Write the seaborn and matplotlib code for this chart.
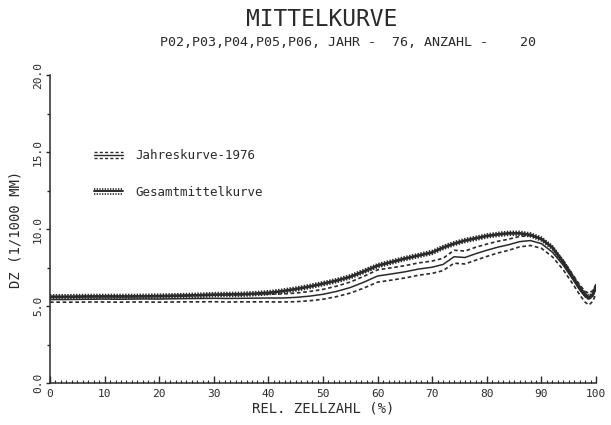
import numpy as np
import pandas as pd
import matplotlib
matplotlib.use("Agg")
import matplotlib.pyplot as plt
from matplotlib.lines import Line2D
from matplotlib.legend_handler import HandlerBase
import seaborn as sns

# Relative cell number (%) and cell-wall thickness DZ (1/1000 mm)
rel_zellzahl = [0, 2.5, 5, 7.5, 10, 12.5, 15, 17.5, 20, 22.5, 25, 27.5, 30, 32.5,
                35, 37.5, 40, 42.5, 45, 47.5, 50, 52.5, 55, 57.5, 60, 62.5, 65,
                67.5, 70, 72, 74, 76, 78, 80, 82, 84, 86, 88, 90, 92, 94, 96,
                97, 98, 98.7, 99.4, 100]

# Year curve 1976: mean and spread
jahr_mittel = [5.42, 5.42, 5.43, 5.44, 5.45, 5.44, 5.45, 5.46, 5.45, 5.47, 5.48,
               5.49, 5.50, 5.49, 5.50, 5.51, 5.52, 5.52, 5.56, 5.64, 5.76, 5.95,
               6.20, 6.55, 6.95, 7.08, 7.22, 7.40, 7.52, 7.70, 8.20, 8.15, 8.40,
               8.62, 8.82, 8.98, 9.18, 9.25, 9.05, 8.50, 7.65, 6.60, 6.05, 5.60,
               5.45, 5.65, 6.10]
jahr_streuung = [0.17, 0.17, 0.18, 0.18, 0.19, 0.19, 0.19, 0.20, 0.20, 0.21,
                 0.21, 0.22, 0.22, 0.23, 0.23, 0.24, 0.25, 0.26, 0.28, 0.30,
                 0.32, 0.34, 0.36, 0.38, 0.40, 0.40, 0.40, 0.40, 0.40, 0.40,
                 0.42, 0.42, 0.42, 0.40, 0.38, 0.36, 0.34, 0.32, 0.30, 0.30,
                 0.30, 0.30, 0.32, 0.35, 0.38, 0.35, 0.30]

# Overall mean curve and spread
gesamt_mittel = [5.60, 5.60, 5.61, 5.62, 5.62, 5.62, 5.62, 5.63, 5.64, 5.66,
                 5.68, 5.70, 5.74, 5.75, 5.76, 5.80, 5.86, 5.96, 6.10, 6.26,
                 6.45, 6.65, 6.90, 7.25, 7.62, 7.85, 8.08, 8.28, 8.48, 8.80,
                 9.05, 9.25, 9.40, 9.55, 9.65, 9.72, 9.72, 9.62, 9.35, 8.80,
                 7.85, 6.75, 6.20, 5.75, 5.55, 5.75, 6.30]
gesamt_streuung = [0.12] * 47

x_ticks = [0, 10, 20, 30, 40, 50, 60, 70, 80, 90, 100]
y_ticks = [0.0, 5.0, 10.0, 15.0, 20.0]

df = pd.DataFrame({
    "x": rel_zellzahl,
    "jm": jahr_mittel,
    "jo": np.add(jahr_mittel, jahr_streuung),
    "ju": np.subtract(jahr_mittel, jahr_streuung),
    "gm": gesamt_mittel,
    "go": np.add(gesamt_mittel, gesamt_streuung),
    "gu": np.subtract(gesamt_mittel, gesamt_streuung),
})

sns.set_style("ticks")
mono = ["DejaVu Sans Mono", "DejaVu Sans"]
plt.rcParams["font.family"] = mono
ink = "#2a2a2a"

fig = plt.figure(figsize=(6.11, 4.25), dpi=100)
ax = fig.add_axes([0.0818, 0.0988, 0.8937, 0.7247])

dash = (0, (2.2, 1.6))
dots = (0, (0.8, 0.8))

# Overall mean curve (heavy, hatched look)
sns.lineplot(data=df, x="x", y="go", ax=ax, color=ink, lw=1.3, linestyle=dots)
sns.lineplot(data=df, x="x", y="gu", ax=ax, color=ink, lw=1.3, linestyle=dots)
sns.lineplot(data=df, x="x", y="gm", ax=ax, color=ink, lw=2.0)

# Year curve with dashed spread
sns.lineplot(data=df, x="x", y="jo", ax=ax, color=ink, lw=1.2, linestyle=dash)
sns.lineplot(data=df, x="x", y="ju", ax=ax, color=ink, lw=1.2, linestyle=dash)
sns.lineplot(data=df, x="x", y="jm", ax=ax, color=ink, lw=1.1)

ax.set_xlim(0, 100)
ax.set_ylim(0, 20)
ax.set_xticks(x_ticks)
ax.set_xticks(np.arange(0, 101, 1), minor=True)
ax.set_yticks(y_ticks)
ax.set_yticks(np.arange(0, 20.1, 2.5), minor=True)
ax.set_xticklabels([str(v) for v in x_ticks])
ax.set_yticklabels([f"{v:.1f}" for v in y_ticks], rotation=90, va="center")

sns.despine(ax=ax)
for s in ("left", "bottom"):
    ax.spines[s].set_color(ink)
    ax.spines[s].set_linewidth(1.1)
ax.tick_params(axis="x", which="major", direction="in", length=5, width=1,
               color=ink, labelsize=8, labelcolor=ink, pad=4)
ax.tick_params(axis="x", which="minor", direction="in", length=2.5, width=0.8,
               color=ink)
ax.tick_params(axis="y", which="major", direction="out", length=3, width=1,
               color=ink, labelsize=8, labelcolor=ink, pad=2)
ax.tick_params(axis="y", which="minor", direction="out", length=2, width=1,
               color=ink)

ax.set_xlabel("REL. ZELLZAHL (%)", fontsize=10, color=ink, labelpad=2)
ax.set_ylabel("DZ (1/1000 MM)", fontsize=10, color=ink)
ax.yaxis.set_label_coords(-0.05, 0.5)

fig.text(0.527, 0.955, "MITTELKURVE", ha="center", va="center",
         fontsize=16.5, color=ink)
fig.text(0.57, 0.90, "P02,P03,P04,P05,P06, JAHR -  76, ANZAHL -    20",
         ha="center", va="center", fontsize=9.6, color=ink)


class Bundle(HandlerBase):
    def __init__(self, styles):
        super().__init__()
        self.styles = styles

    def create_artists(self, legend, orig_handle, xdescent, ydescent,
                       width, height, fontsize, trans):
        arts = []
        for off, ls, lw in self.styles:
            y = height / 2 + off * height
            ln = Line2D([0, width], [y, y], color=ink, lw=lw, linestyle=ls,
                        transform=trans)
            arts.append(ln)
        return arts


h_jahr = Line2D([], [])
h_ges = Line2D([], [])
ax.legend([h_jahr, h_ges], ["Jahreskurve-1976", "Gesamtmittelkurve"],
          handler_map={
              h_jahr: Bundle([(0.35, dash, 1.0), (0.0, "-", 1.0),
                              (-0.35, dash, 1.0)]),
              h_ges: Bundle([(0.3, dots, 1.2), (0.0, "-", 1.4),
                             (-0.3, dots, 1.2)]),
          },
          loc="upper left", bbox_to_anchor=(0.06, 0.795), frameon=False,
          handlelength=2.3, handletextpad=1.0, labelspacing=1.85,
          prop={"size": 9}, labelcolor=ink)

fig.savefig("out.png", dpi=100, facecolor="white")
